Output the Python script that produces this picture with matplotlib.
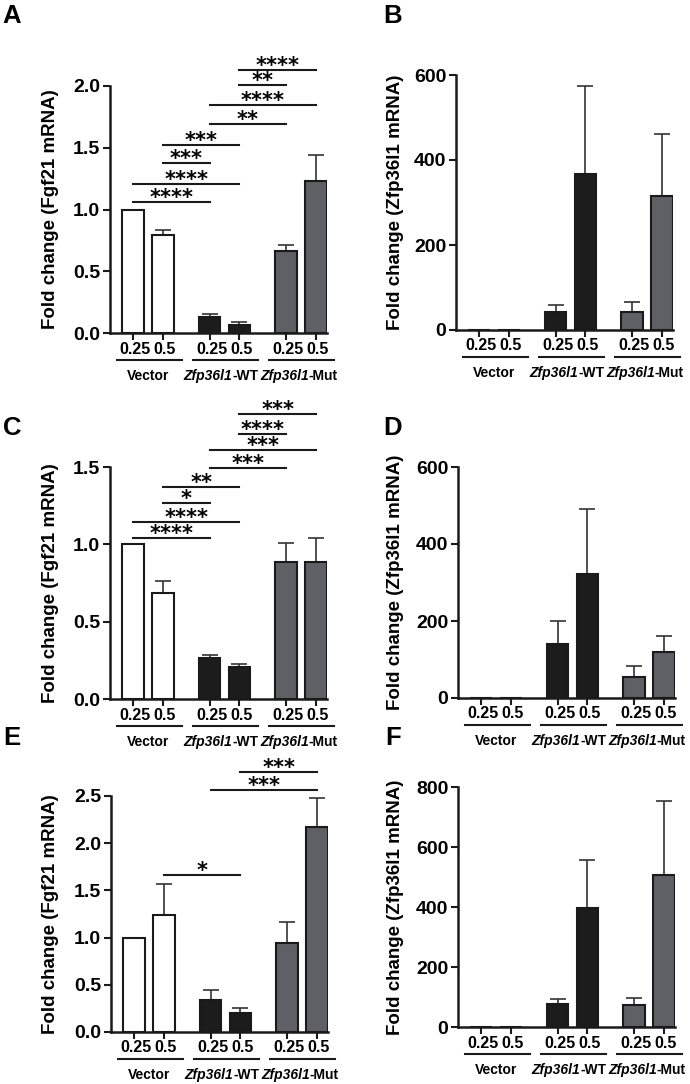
import numpy as np
import matplotlib
matplotlib.use("Agg")
import matplotlib.pyplot as plt
import matplotlib.transforms as mt

plt.rcParams['font.family'] = ['Liberation Sans', 'DejaVu Sans']
plt.rcParams['font.weight'] = 'bold'

# data
doses = ['0.25', '0.5', '0.25', '0.5', '0.25', '0.5']
group_it = ['', 'Zfp36l1', 'Zfp36l1']
group_rm = ['Vector', '-WT', '-Mut']

A_mean = [1.00, 0.795, 0.13, 0.067, 0.668, 1.234]
A_err = [0, 0.035, 0.026, 0.019, 0.041, 0.208]
B_mean = [1, 1, 42, 367, 43, 315]
B_err = [0, 0, 17, 206, 22, 147]
C_mean = [1.0, 0.683, 0.264, 0.204, 0.888, 0.883]
C_err = [0, 0.082, 0.022, 0.020, 0.118, 0.161]
D_mean = [1, 1, 140, 321, 55, 120]
D_err = [0, 0, 59, 169, 27, 42]
E_mean = [1.0, 1.241, 0.335, 0.197, 0.948, 2.176]
E_err = [0, 0.325, 0.113, 0.057, 0.212, 0.304]
F_mean = [1, 1, 78, 396, 73, 508]
F_err = [0, 0, 15, 162, 25, 246]

# significance brackets: (bar i, bar j, height, stars)
A_sig = [(0, 2, 1.057, '****'), (0, 3, 1.21, '****'), (1, 2, 1.375, '***'), (1, 3, 1.523, '***'),
         (2, 4, 1.693, '**'), (2, 5, 1.844, '****'), (3, 4, 2.01, '**'), (3, 5, 2.13, '****')]
C_sig = [(0, 2, 1.042, '****'), (0, 3, 1.145, '****'), (1, 2, 1.268, '*'), (1, 3, 1.373, '**'),
         (2, 4, 1.496, '***'), (2, 5, 1.607, '***'), (3, 4, 1.715, '****'), (3, 5, 1.84, '***')]
E_sig = [(1, 3, 1.661, '*'), (2, 5, 2.563, '***'), (3, 5, 2.757, '***')]

fgf_label = 'Fold change (Fgf21 mRNA)'
zfp_label = 'Fold change (Zfp36l1 mRNA)'

W, H = 690, 1084
fig = plt.figure(figsize=(W / 100, H / 100), dpi=100)

pos = np.array([0, 1, 2.55, 3.55, 5.1, 6.1])
colors = ['white', 'white', '#1c1c1c', '#1c1c1c', '#5e6065', '#5e6065']
edge = '#1a1a1a'
XL = (-0.77, 6.47)


def make_panel(letter, rect, mean, err, yticks, fmt, ylabel, sig=None, letter_xy=(0, 0), ylab_x=0):
    left, top, right, bottom = rect
    ax = fig.add_axes([left / W, 1 - bottom / H, (right - left) / W, (bottom - top) / H])
    ax.bar(pos, mean, width=0.73, color=colors, edgecolor=edge, linewidth=1.5, zorder=2)
    mean = np.array(mean, float)
    err = np.array(err, float)
    has = err > 0
    ax.vlines(pos[has], mean[has], mean[has] + err[has], color='#333333', lw=1.2, zorder=1)
    ax.plot(pos[has], mean[has] + err[has], ls='none', marker='_', ms=11, mew=1.2, color='#333333', zorder=1)
    ax.set_xlim(*XL)
    ax.set_ylim(yticks[0], yticks[-1])
    ax.set_yticks(yticks)
    ax.set_yticklabels([fmt.format(t) for t in yticks], fontsize=14, fontweight='bold')
    ax.set_xticks(pos)
    ax.set_xticklabels([])
    ax.tick_params(axis='both', width=1.5, length=5, color=edge, pad=2)
    for s in ['top', 'right']:
        ax.spines[s].set_visible(False)
    for s in ['left', 'bottom']:
        ax.spines[s].set_linewidth(1.8)
        ax.spines[s].set_color(edge)

    # dose labels, underlines, group labels
    trans = ax.get_xaxis_transform()
    for p, d in zip(pos, doses):
        ax.annotate(d, (p, 0), xycoords=trans, xytext=(2, -16), textcoords='offset pixels',
                    ha='center', va='center', fontsize=11.5, fontweight='bold')
    under = trans + mt.ScaledTranslation(0, -0.27, fig.dpi_scale_trans)
    for g in range(3):
        a, b = pos[2 * g], pos[2 * g + 1]
        ax.plot([a - 0.55, b + 0.62], [0, 0], transform=under, color=edge, lw=1.5, clip_on=False)
        c = (a + b) / 2
        if group_it[g]:
            ax.annotate(group_it[g], (c, 0), xycoords=trans, xytext=(8, -43), textcoords='offset pixels',
                        ha='right', va='center', fontsize=10, fontweight='bold', fontstyle='italic')
            ax.annotate(group_rm[g], (c, 0), xycoords=trans, xytext=(8, -43), textcoords='offset pixels',
                        ha='left', va='center', fontsize=10, fontweight='bold')
        else:
            ax.annotate(group_rm[g], (c, 0), xycoords=trans, xytext=(0, -43), textcoords='offset pixels',
                        ha='center', va='center', fontsize=10, fontweight='bold')

    if sig:
        for i, j, y, s in sig:
            ax.plot([pos[i], pos[j]], [y, y], color=edge, lw=1.5, clip_on=False)
            ax.annotate(s, ((pos[i] + pos[j]) / 2, y), xytext=(0, -6), textcoords='offset pixels',
                        ha='center', va='bottom', fontsize=15, fontweight='bold', family='DejaVu Sans',
                        annotation_clip=False)

    fig.text(ylab_x / W, 1 - (top + bottom) / 2 / H, ylabel, rotation=90, ha='center', va='center',
             fontsize=13.5, fontweight='bold')
    fig.text(letter_xy[0] / W, 1 - letter_xy[1] / H, letter, ha='center', va='center',
             fontsize=18.5, fontweight='bold')
    return ax


make_panel('A', (110, 86, 327, 333), A_mean, A_err, [0, 0.5, 1.0, 1.5, 2.0], '{:.1f}', fgf_label,
           A_sig, (12, 16), 51)
make_panel('B', (456, 75, 673, 330), B_mean, B_err, [0, 200, 400, 600], '{:d}', zfp_label,
           None, (393, 16), 395)
make_panel('C', (110, 467, 327, 699), C_mean, C_err, [0, 0.5, 1.0, 1.5], '{:.1f}', fgf_label,
           C_sig, (12, 428), 51)
make_panel('D', (458, 467, 675, 698), D_mean, D_err, [0, 200, 400, 600], '{:d}', zfp_label,
           None, (393, 428), 395)
make_panel('E', (111, 796, 328, 1032), E_mean, E_err, [0, 0.5, 1.0, 1.5, 2.0, 2.5], '{:.1f}', fgf_label,
           E_sig, (12, 738), 51)
make_panel('F', (458, 787, 675, 1027), F_mean, F_err, [0, 200, 400, 600, 800], '{:d}', zfp_label,
           None, (393, 738), 395)

fig.savefig('out.png', dpi=100)
